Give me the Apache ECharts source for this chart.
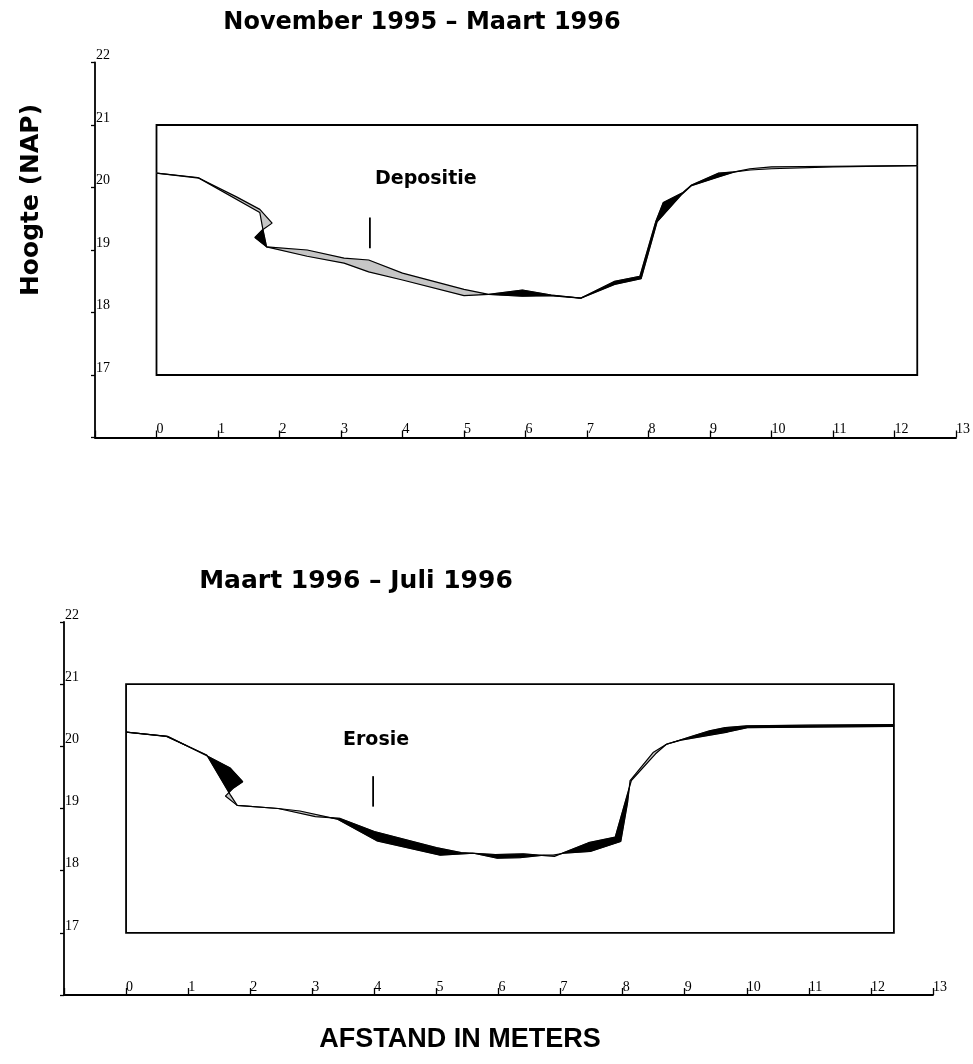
<!DOCTYPE html>
<html>
<head>
<meta charset="utf-8">
<script src="https://cdn.jsdelivr.net/npm/echarts@6/dist/echarts.min.js"></script>
<style>
  html, body { margin: 0; padding: 0; background: #fff; }
  #chart { width: 973px; height: 1064px; }
</style>
</head>
<body>
<div id="chart"></div>
<script>
// Cross-section surveys of the channel bed: distance (m) and height (m NAP)
const novDist    = [0, 0.69, 1.68, 1.73, 1.79, 2.45, 3.05, 3.45, 4.00, 5.00, 5.40, 5.95, 6.42, 6.90, 7.45, 7.86, 8.12, 8.24, 8.56, 8.70, 9.14, 9.40, 9.65, 10.00, 11.00, 12.37];
const novHeight  = [20.23, 20.15, 19.60, 19.33, 19.05, 18.90, 18.79, 18.65, 18.52, 18.27, 18.29, 18.36, 18.28, 18.23, 18.50, 18.58, 19.46, 19.76, 19.92, 20.04, 20.23, 20.25, 20.28, 20.30, 20.33, 20.35];

const maartDist   = [0, 0.67, 1.30, 1.68, 1.88, 1.72, 1.60, 1.79, 2.45, 3.05, 3.45, 4.00, 5.00, 5.40, 5.95, 6.40, 6.90, 7.45, 7.88, 8.14, 8.53, 8.70, 9.14, 9.40, 9.65, 10.00, 11.00, 12.37];
const maartHeight = [20.23, 20.16, 19.85, 19.65, 19.43, 19.32, 19.20, 19.05, 19.00, 18.87, 18.84, 18.63, 18.37, 18.29, 18.26, 18.27, 18.23, 18.45, 18.54, 19.45, 19.88, 20.03, 20.17, 20.25, 20.30, 20.33, 20.34, 20.35];

const juliDist   = [0, 0.65, 1.30, 1.68, 1.79, 2.45, 2.80, 3.40, 4.04, 5.06, 5.60, 5.98, 6.35, 6.73, 6.88, 7.05, 7.48, 7.97, 8.08, 8.12, 8.49, 8.72, 8.94, 9.69, 10.01, 11.00, 12.37];
const juliHeight = [20.23, 20.16, 19.86, 19.22, 19.05, 19.00, 18.96, 18.83, 18.48, 18.25, 18.28, 18.20, 18.21, 18.25, 18.25, 18.28, 18.31, 18.47, 19.10, 19.45, 19.90, 20.04, 20.10, 20.23, 20.30, 20.31, 20.32];

// Axis tick labels
const distTickLabels   = ['0','1','2','3','4','5','6','7','8','9','10','11','12','13'];
const heightTickLabels = ['17','18','19','20','21','22'];

// Plot frame extent and annotation markers (data units)
const frameDist   = [0, 12.37];
const frameHeight = [17, 21];
const depositieAt = 3.47;
const erosieAt    = 3.98;
const markerHeight = [19.03, 19.52];

const GREY = '#c6c6c6';
const BLACK = '#000';

function zip(xs, ys) { return xs.map((x, i) => [x, ys[i]]); }

// Segment intersection helper
function segIntersect(p1, p2, q1, q2) {
  const rx = p2[0] - p1[0], ry = p2[1] - p1[1];
  const sx = q2[0] - q1[0], sy = q2[1] - q1[1];
  const den = rx * sy - ry * sx;
  if (Math.abs(den) < 1e-12) return null;
  const qx = q1[0] - p1[0], qy = q1[1] - p1[1];
  const t = (qx * sy - qy * sx) / den;
  const u = (qx * ry - qy * rx) / den;
  const e = 1e-9;
  if (t < -e || t > 1 + e || u < -e || u > 1 + e) return null;
  return { t: Math.min(1, Math.max(0, t)), u: Math.min(1, Math.max(0, u)), p: [p1[0] + t * rx, p1[1] + t * ry] };
}

// Regions between an older and a newer profile, split where they cross.
// Positive signed area => newer profile above (deposition), negative => erosion.
function diffRegions(A, B) {
  const nA = A.length, nB = B.length;
  let cr = [{ tA: 0, tB: 0, pa: A[0], pb: B[0] }];
  for (let i = 0; i < nA - 1; i++) {
    for (let j = 0; j < nB - 1; j++) {
      const r = segIntersect(A[i], A[i + 1], B[j], B[j + 1]);
      if (r) cr.push({ tA: i + r.t, tB: j + r.u, pa: r.p, pb: r.p });
    }
  }
  cr.push({ tA: nA - 1, tB: nB - 1, pa: A[nA - 1], pb: B[nB - 1] });
  cr.sort((a, b) => a.tA - b.tA || a.tB - b.tB);
  const list = [];
  for (const c of cr) {
    const last = list[list.length - 1];
    if (last && Math.abs(c.tA - last.tA) < 1e-6 && Math.abs(c.tB - last.tB) < 1e-6) continue;
    if (last && c.tB < last.tB - 1e-9) continue;
    list.push(c);
  }
  const regions = [];
  for (let k = 0; k < list.length - 1; k++) {
    const c0 = list[k], c1 = list[k + 1];
    const pts = [c0.pa];
    for (let i = 0; i < nA; i++) if (i > c0.tA + 1e-9 && i < c1.tA - 1e-9) pts.push(A[i]);
    pts.push(c1.pa);
    pts.push(c1.pb);
    for (let j = nB - 1; j >= 0; j--) if (j > c0.tB + 1e-9 && j < c1.tB - 1e-9) pts.push(B[j]);
    pts.push(c0.pb);
    let area = 0;
    for (let m = 0; m < pts.length; m++) {
      const p = pts[m], q = pts[(m + 1) % pts.length];
      area += p[0] * q[1] - q[0] * p[1];
    }
    if (Math.abs(area) > 1e-7) regions.push({ pts, area });
  }
  return regions;
}

const nov = zip(novDist, novHeight);
const maart = zip(maartDist, maartHeight);
const juli = zip(juliDist, juliHeight);

const topRegions = diffRegions(nov, maart);
const botRegions = diffRegions(maart, juli);

function regionSeries(regions, idx) {
  return {
    type: 'custom',
    xAxisIndex: idx, yAxisIndex: idx,
    silent: true, clip: false, z: 1,
    data: regions.map(r => r.pts[0]),
    renderItem: function (params, api) {
      const r = regions[params.dataIndex];
      const col = r.area > 0 ? GREY : BLACK;
      return {
        type: 'polygon',
        shape: { points: r.pts.map(p => api.coord(p)) },
        style: { fill: col, stroke: col, lineWidth: 0.6 }
      };
    }
  };
}

function profileSeries(points, idx, withFrame) {
  const s = {
    type: 'line',
    xAxisIndex: idx, yAxisIndex: idx,
    data: points,
    showSymbol: false, symbol: 'none',
    silent: true, z: 3,
    lineStyle: { color: '#000', width: 1.2 }
  };
  if (withFrame) {
    s.markArea = {
      silent: true,
      itemStyle: { color: 'rgba(0,0,0,0)', borderColor: '#000', borderWidth: 1.8 },
      data: [[{ coord: [frameDist[0], frameHeight[0]] }, { coord: [frameDist[1], frameHeight[1]] }]]
    };
  }
  return s;
}

function markerSeries(at, idx) {
  return {
    type: 'line',
    xAxisIndex: idx, yAxisIndex: idx,
    data: [[at, markerHeight[0]], [at, markerHeight[1]]],
    showSymbol: false, symbol: 'none', silent: true, z: 3,
    lineStyle: { color: '#000', width: 1.8 }
  };
}

const tickFont = { fontFamily: 'Liberation Serif', fontSize: 14, color: '#000' };

function xAxisDef(idx) {
  return {
    type: 'value', gridIndex: idx, min: -1, max: 13, interval: 1,
    splitLine: { show: false },
    axisLine: { onZero: false, lineStyle: { color: '#000', width: 1.8 } },
    axisTick: { show: true, inside: true, length: 7, lineStyle: { color: '#000', width: 1.3 } },
    axisLabel: Object.assign({
      inside: true, margin: 1, align: 'left', verticalAlign: 'bottom',
      formatter: v => distTickLabels.indexOf(String(v)) >= 0 ? String(v) : ''
    }, tickFont)
  };
}

function yAxisDef(idx) {
  return {
    type: 'value', gridIndex: idx, min: 16, max: 22, interval: 1,
    splitLine: { show: false },
    axisLine: { onZero: false, lineStyle: { color: '#000', width: 1.8 } },
    axisTick: { show: true, inside: false, length: 4, lineStyle: { color: '#000', width: 1.3 } },
    axisLabel: Object.assign({
      inside: true, margin: 1, verticalAlign: 'bottom',
      formatter: v => heightTickLabels.indexOf(String(v)) >= 0 ? String(v) : ''
    }, tickFont)
  };
}

function text(str, x, y, font, align, extra) {
  return Object.assign({
    type: 'text', x: x, y: y, silent: true,
    style: { text: str, font: font, fill: '#000', textAlign: align, textVerticalAlign: 'middle', align: align, verticalAlign: 'middle' }
  }, extra || {});
}

const chart = echarts.init(document.getElementById('chart'), null, { renderer: 'canvas' });
chart.setOption({
  animation: false,
  backgroundColor: '#fff',
  grid: [
    { left: 95, right: 9, top: 62.5, bottom: 626.5 },
    { left: 64, right: 40, top: 622, bottom: 69 }
  ],
  xAxis: [xAxisDef(0), xAxisDef(1)],
  yAxis: [yAxisDef(0), yAxisDef(1)],
  graphic: [
    text('November 1995 \u2013 Maart 1996', 422, 23, 'bold 24px "DejaVu Sans"', 'center'),
    text('Maart 1996 \u2013 Juli 1996', 356, 581, 'bold 25px "DejaVu Sans"', 'center'),
    text('Depositie', 375, 179, 'bold 19px "DejaVu Sans"', 'left'),
    text('Erosie', 343, 740, 'bold 19px "DejaVu Sans"', 'left'),
    text('Hoogte (NAP)', 31, 200, 'bold 25px "DejaVu Sans"', 'center', { rotation: Math.PI / 2 }),
    text('AFSTAND IN METERS', 460, 1040, 'bold 27px "Liberation Sans"', 'center')
  ],
  series: [
    regionSeries(topRegions, 0),
    profileSeries(nov, 0, true),
    profileSeries(maart, 0, false),
    markerSeries(depositieAt, 0),
    regionSeries(botRegions, 1),
    profileSeries(maart, 1, true),
    profileSeries(juli, 1, false),
    markerSeries(erosieAt, 1)
  ]
});
</script>
</body>
</html>
